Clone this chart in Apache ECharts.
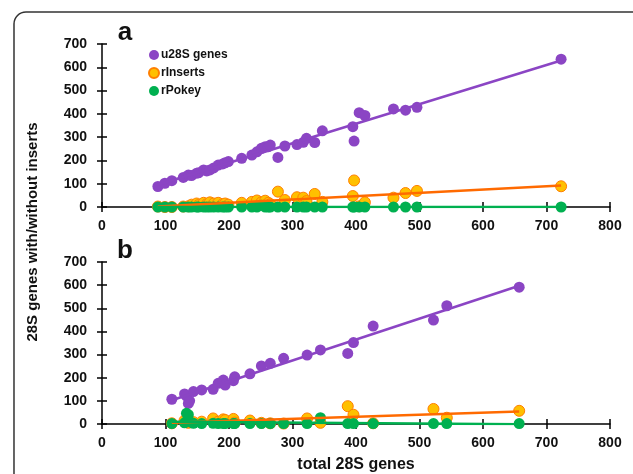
<!DOCTYPE html>
<html>
<head>
<meta charset="utf-8">
<script src="https://cdn.jsdelivr.net/npm/echarts@6/dist/echarts.min.js"></script>
<style>
html,body{margin:0;padding:0;background:#fff;}
#chart{width:633px;height:474px;}
</style>
</head>
<body>
<div id="chart"></div>
<script>
// panel a
var aTotal   = [88, 99, 110, 128, 136, 141, 149, 152, 160, 165, 170, 176, 183, 190, 194, 199, 220, 236, 244, 251, 257, 262, 265, 277, 288, 307, 317, 322, 335, 347, 395, 397, 405, 414, 459, 478, 496, 723];
var aU28S    = [88, 102, 113, 127, 137, 135, 145, 147, 159, 155, 159, 168, 180, 185, 190, 195, 209, 223, 237, 252, 259, 259, 266, 213, 262, 268, 278, 295, 277, 327, 345, 283, 405, 393, 421, 416, 428, 635];
var aInserts = [2, 0, 0, 2, 3, 10, 15, 8, 18, 12, 20, 15, 18, 12, 15, 10, 18, 22, 28, 20, 27, 18, 12, 66, 30, 42, 40, 25, 56, 22, 47, 114, 3, 20, 40, 60, 69, 89];
var aPokey   = [0, 0, 0, 0, 0, 0, 0, 0, 0, 0, 0, 0, 0, 0, 0, 0, 0, 0, 0, 8, 0, 0, 0, 0, 0, 0, 0, 0, 0, 0, 0, 0, 0, 0, 0, 0, 0, 0];
// panel b
var bTotal   = [110, 130, 133, 136, 138, 144, 157, 175, 183, 191, 194, 207, 209, 233, 251, 265, 286, 323, 344, 387, 396, 427, 522, 543, 657];
var bU28S    = [107, 130, 120, 89, 100, 140, 147, 150, 176, 190, 168, 187, 204, 217, 251, 262, 284, 298, 320, 305, 352, 423, 449, 511, 591];
var bInserts = [3, 15, 8, 5, 10, 8, 10, 24, 10, 20, 17, 22, 6, 15, 5, 3, 2, 24, 5, 77, 40, 3, 65, 27, 57];
var bPokey   = [2, 5, 46, 40, 10, 3, 2, 3, 2, 2, 2, 2, 2, 2, 2, 2, 2, 2, 27, 2, 2, 2, 2, 2, 2];

var seriesNames = ['u28S genes', 'rInserts', 'rPokey'];
var colors = ['#8b45c4', '#ffc000', '#00b050'];
var trendColors = ['#8b45c4', '#ff6a00', '#00b050'];

var myChart = echarts.init(document.getElementById('chart'));
var FONT = '"Liberation Sans", Arial, sans-serif';

function pairs(xs, ys){
    return xs.map(function(x, i){ return [x, ys[i]]; });
}

// least squares line over the data range
function trend(xs, ys){
    var n = xs.length, sx = 0, sy = 0, sxx = 0, sxy = 0;
    for (var i = 0; i < n; i++){
        sx += xs[i]; sy += ys[i]; sxx += xs[i]*xs[i]; sxy += xs[i]*ys[i];
    }
    var b = (n*sxy - sx*sy) / (n*sxx - sx*sx);
    var a = (sy - b*sx) / n;
    var x0 = Math.min.apply(null, xs), x1 = Math.max.apply(null, xs);
    return [[x0, a + b*x0], [x1, a + b*x1]];
}

// inside=true gives a label-less copy whose ticks point into the plot, so ticks cross the line
function xAx(grid, inside){
    return {
        type: 'value', gridIndex: grid, position: 'bottom', min: 0, max: 800, interval: 100,
        axisLine: {show: !inside, onZero: false, lineStyle: {color: '#000', width: 1.5}},
        axisTick: {show: true, inside: inside, length: 5, lineStyle: {color: '#000', width: 1.5}},
        axisLabel: {show: !inside, margin: 12, color: '#111', fontSize: 14, fontWeight: 'bold', fontFamily: FONT},
        splitLine: {show: false}
    };
}
function yAx(grid, inside){
    return {
        type: 'value', gridIndex: grid, position: 'left', min: 0, max: 700, interval: 100,
        axisLine: {show: !inside, onZero: false, lineStyle: {color: '#000', width: 1.5}},
        axisTick: {show: true, inside: inside, length: 5, lineStyle: {color: '#000', width: 1.5}},
        axisLabel: {show: !inside, margin: 15, color: '#111', fontSize: 14, fontWeight: 'bold', fontFamily: FONT},
        splitLine: {show: false}
    };
}

var panels = [
    {total: aTotal, vals: [aU28S, aInserts, aPokey]},
    {total: bTotal, vals: [bU28S, bInserts, bPokey]}
];

var series = [];
panels.forEach(function(p, g){
    p.vals.forEach(function(v, k){
        series.push({
            type: 'scatter', name: seriesNames[k], xAxisIndex: g, yAxisIndex: g,
            data: pairs(p.total, v), symbolSize: 11, z: 2 + k,
            itemStyle: k === 1 ? {color: colors[k], borderColor: '#ff7f00', borderWidth: 1, opacity: 1} : {color: colors[k], opacity: 1}
        });
    });
    p.vals.forEach(function(v, k){
        series.push({
            type: 'line', name: 'trend' + g + k, xAxisIndex: g, yAxisIndex: g,
            data: trend(p.total, v), showSymbol: false, symbol: 'none', silent: true, z: 6,
            lineStyle: {color: trendColors[k], width: 2.5}
        });
    });
});

var option = {
    animation: false,
    backgroundColor: '#fff',
    grid: [
        {left: 102, right: 23, top: 44, height: 163},
        {left: 102, right: 23, top: 262, height: 162}
    ],
    xAxis: [xAx(0, false), xAx(1, false), xAx(0, true), xAx(1, true)],
    yAxis: [yAx(0, false), yAx(1, false), yAx(0, true), yAx(1, true)],
    legend: {
        data: seriesNames, orient: 'vertical', left: 143, top: 44,
        icon: 'circle', itemWidth: 10, itemHeight: 10, itemGap: 6,
        textStyle: {fontSize: 12, fontWeight: 'bold', color: '#111', fontFamily: FONT, padding: [0, 0, 0, -3]}
    },
    graphic: [
        {type: 'rect', shape: {x: 14, y: 12, width: 700, height: 600, r: 12},
         style: {fill: 'none', stroke: '#333', lineWidth: 1.5}, silent: true},
        {type: 'text', x: 33, y: 232, rotation: Math.PI/2,
         style: {text: '28S genes with/without inserts', fontSize: 15, fontWeight: 'bold', fontFamily: FONT,
                 fill: '#111', textAlign: 'center', textVerticalAlign: 'middle'}},
        {type: 'text', x: 356, y: 465,
         style: {text: 'total 28S genes', fontSize: 16, fontWeight: 'bold', fontFamily: FONT,
                 fill: '#111', textAlign: 'center', textVerticalAlign: 'middle'}},
        {type: 'text', x: 125, y: 33,
         style: {text: 'a', fontSize: 26, fontWeight: 'bold', fontFamily: FONT,
                 fill: '#111', textAlign: 'center', textVerticalAlign: 'middle'}},
        {type: 'text', x: 125, y: 251,
         style: {text: 'b', fontSize: 26, fontWeight: 'bold', fontFamily: FONT,
                 fill: '#111', textAlign: 'center', textVerticalAlign: 'middle'}}
    ],
    series: series
};

myChart.setOption(option);
</script>
</body>
</html>
